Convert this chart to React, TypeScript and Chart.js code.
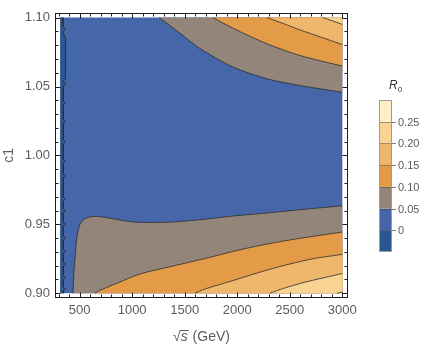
import React, { useEffect, useRef } from 'react';
import { Chart, registerables } from 'chart.js';

Chart.register(...registerables);

// ---- axis ranges ----
const X_AXIS_MIN = 266;
const X_AXIS_MAX = 3054;
const Y_AXIS_MIN = 0.8965;
const Y_AXIS_MAX = 1.1035;
const X_DATA_MIN = 316;
const X_DATA_MAX = 3000;
const Y_DATA_MIN = 0.9;
const Y_DATA_MAX = 1.1;

// ---- tick labels ----
const xTickValues = [500, 1000, 1500, 2000, 2500, 3000];
const yTickValues = [0.9, 0.95, 1.0, 1.05, 1.1];
const legendLabels = ['0', '0.05', '0.10', '0.15', '0.20', '0.25'];

// ---- band colours (below 0, 0-0.05, ..., above 0.25) ----
const C_DARK = '#2b5790';
const C_BLUE = '#4566a8';
const C_GRAY = '#93857a';
const C_ORANGE = '#e39b48';
const C_LIGHT = '#efb76b';
const C_PALE = '#f9d391';
const C_PALEST = '#fef0c6';
const bandColors = [C_DARK, C_BLUE, C_GRAY, C_ORANGE, C_LIGHT, C_PALE, C_PALEST];

// ---- contour lines (R0 levels) ----
// upper-right family
const upper05X = [1258, 1455, 1646, 1960, 2283, 2597, 3000];
const upper05Y = [1.1, 1.0887, 1.0775, 1.0641, 1.0556, 1.0507, 1.0458];
const upper10X = [1769, 1960, 2283, 2597, 3000];
const upper10Y = [1.1, 1.0923, 1.081, 1.0725, 1.0648];
const upper15X = [2283, 2435, 2597, 3000];
const upper15Y = [1.1, 1.0958, 1.0911, 1.0805];
const upper20X = [2816, 3000];
const upper20Y = [1.1, 1.0951];

// lower family
const lower05X = [437, 447, 456, 475, 504, 551, 618, 694, 1008, 1332, 1646, 1960, 2283, 2597, 3000];
const lower05Y = [0.9, 0.9162, 0.9246, 0.9408, 0.95, 0.9542, 0.9556, 0.9556, 0.9517, 0.9515, 0.9533, 0.956, 0.9582, 0.9606, 0.9634];
const lower10X = [647, 694, 761, 1075, 1389, 1712, 2026, 2312, 2597, 3000];
const lower10Y = [0.9, 0.9021, 0.9042, 0.9139, 0.9197, 0.9255, 0.9315, 0.9361, 0.9398, 0.9444];
const lower15X = [1598, 1680, 1960, 2312, 2692, 3000];
const lower15Y = [0.9, 0.9027, 0.9092, 0.9174, 0.9246, 0.9282];
const lower20X = [2312, 2450, 2645, 3000];
const lower20Y = [0.9, 0.9037, 0.908, 0.9143];
const lower25X = [2950, 3000];
const lower25Y = [0.9, 0.9008];

// zero contour near threshold (right edge of the dark strip), top to bottom
const stripX = [342, 342, 366, 345, 366, 366, 345, 366, 345, 345, 366, 345, 345, 366, 345, 345, 366, 345, 345, 366, 345, 345, 366, 345, 345, 366, 345, 345, 366, 345, 345, 366, 345, 345, 366, 345, 345, 366, 345, 345, 366, 345, 345, 366, 345, 345, 366, 345, 345];
const stripY = [1.1, 1.0937, 1.0915, 1.0894, 1.0852, 1.0556, 1.0542, 1.0521, 1.05, 1.0394, 1.038, 1.0366, 1.0261, 1.0246, 1.0232, 1.0113, 1.0099, 1.0085, 0.9972, 0.9958, 0.9944, 0.9866, 0.9852, 0.9838, 0.9697, 0.9683, 0.9669, 0.9613, 0.9599, 0.9585, 0.9514, 0.95, 0.9486, 0.9415, 0.9401, 0.9387, 0.9317, 0.9303, 0.9289, 0.9225, 0.9211, 0.9197, 0.9127, 0.9113, 0.9099, 0.9045, 0.9031, 0.9017, 0.9];

const FONT = '"Liberation Sans", Arial, Helvetica, sans-serif';
const TEXT = '#5c5c5c';
const LINE = 'rgba(45,45,45,0.8)';
const TENSION = 0.25;

const pts = (xs: number[], ys: number[]) => xs.map((x, i) => ({ x, y: ys[i] }));

function region(xs: number[], ys: number[], cx: number, cy: number, color: string, order: number, tension = TENSION) {
  const p = pts(xs, ys);
  return {
    data: [...p, p[p.length - 1], { x: cx, y: cy }],
    showLine: true,
    fill: 'shape',
    backgroundColor: color,
    borderColor: 'transparent',
    borderWidth: 0,
    pointRadius: 0,
    tension,
    order,
  };
}

function contour(xs: number[], ys: number[], tension = TENSION) {
  return {
    data: pts(xs, ys),
    showLine: true,
    fill: false,
    borderColor: LINE,
    borderWidth: 1,
    pointRadius: 0,
    tension,
    order: 0,
  };
}

const overlayPlugin = {
  id: 'overlay',
  afterDatasetsDraw(chart: any) {
    const { ctx, chartArea: a, scales } = chart;
    const xs = scales.x;
    const ys = scales.y;
    const L = Math.round(a.left) + 0.5;
    const R = Math.round(a.right) - 0.5;
    const T = Math.round(a.top) + 0.5;
    const B = Math.round(a.bottom) - 0.5;
    ctx.save();
    ctx.strokeStyle = '#1e1e1e';
    ctx.lineWidth = 1;
    ctx.strokeRect(L, T, R - L, B - T);
    ctx.beginPath();
    for (let v = 300; v <= 3000; v += 100) {
      const len = v % 500 === 0 ? 5 : 3;
      const px = Math.round(xs.getPixelForValue(v)) + 0.5;
      ctx.moveTo(px, B); ctx.lineTo(px, B - len);
      ctx.moveTo(px, T); ctx.lineTo(px, T + len);
    }
    for (let i = 0; i <= 20; i++) {
      const v = 0.9 + i * 0.01;
      const len = i % 5 === 0 ? 5 : 3;
      const py = Math.round(ys.getPixelForValue(v)) + 0.5;
      ctx.moveTo(L, py); ctx.lineTo(L + len, py);
      ctx.moveTo(R, py); ctx.lineTo(R - len, py);
    }
    ctx.stroke();
    ctx.restore();
  },
  afterDraw(chart: any) {
    const { ctx, chartArea: a } = chart;
    ctx.save();
    ctx.fillStyle = TEXT;
    // x title: sqrt(s) (GeV)
    const normal = `14px ${FONT}`;
    const italic = `italic 14px ${FONT}`;
    ctx.font = normal;
    const wSq = ctx.measureText('√').width;
    const ascSq = ctx.measureText('√').actualBoundingBoxAscent;
    const wRest = ctx.measureText(' (GeV)').width;
    ctx.font = italic;
    const wS = ctx.measureText('s').width;
    const total = wSq + wS + wRest + 1;
    const x0 = (a.left + a.right) / 2 - total / 2;
    const base = 341;
    ctx.textBaseline = 'alphabetic';
    ctx.textAlign = 'left';
    ctx.font = normal;
    ctx.fillText('√', x0, base);
    ctx.font = italic;
    ctx.fillText('s', x0 + wSq, base);
    ctx.font = normal;
    ctx.fillText(' (GeV)', x0 + wSq + wS + 1, base);
    ctx.strokeStyle = TEXT;
    ctx.lineWidth = 1;
    ctx.beginPath();
    const vy = Math.round(base - ascSq) + 0.5;
    ctx.moveTo(x0 + wSq - 1, vy);
    ctx.lineTo(x0 + wSq + wS + 1, vy);
    ctx.stroke();

    // y title
    ctx.save();
    ctx.translate(9, (a.top + a.bottom) / 2);
    ctx.rotate(-Math.PI / 2);
    ctx.textAlign = 'center';
    ctx.textBaseline = 'middle';
    ctx.font = normal;
    ctx.fillText('c1', 0, 0);
    ctx.restore();

    // colour bar legend
    const bx = 379, bw = 13, btop = 100, bbot = 252;
    const n = bandColors.length;
    const bh = (bbot - btop) / n;
    for (let i = 0; i < n; i++) {
      ctx.fillStyle = bandColors[i];
      const y1 = bbot - (i + 1) * bh;
      ctx.fillRect(bx, y1, bw, bh);
    }
    ctx.strokeStyle = 'rgba(60,60,60,0.45)';
    ctx.beginPath();
    for (let i = 1; i < n; i++) {
      const y = Math.round(bbot - i * bh) + 0.5;
      ctx.moveTo(bx, y); ctx.lineTo(bx + bw, y);
    }
    ctx.stroke();
    ctx.strokeStyle = '#9a9a9a';
    ctx.strokeRect(bx + 0.5, btop + 0.5, bw - 1, bbot - btop - 1);
    ctx.strokeStyle = '#808080';
    ctx.fillStyle = TEXT;
    ctx.font = `11px ${FONT}`;
    ctx.textAlign = 'left';
    ctx.textBaseline = 'middle';
    ctx.beginPath();
    for (let i = 0; i < legendLabels.length; i++) {
      const y = Math.round(bbot - (i + 1) * bh) + 0.5;
      ctx.moveTo(bx + bw, y); ctx.lineTo(bx + bw + 4, y);
      ctx.fillText(legendLabels[i], bx + bw + 6, y);
    }
    ctx.stroke();
    // legend title R0
    ctx.fillStyle = '#333';
    ctx.font = `italic 12px ${FONT}`;
    ctx.textBaseline = 'alphabetic';
    ctx.fillText('R', 389, 89);
    const wR = ctx.measureText('R').width;
    ctx.font = `8px ${FONT}`;
    ctx.fillText('0', 389 + wR, 92);
    ctx.restore();
  },
};

export default function App() {
  const ref = useRef<HTMLCanvasElement | null>(null);
  useEffect(() => {
    if (!ref.current) return;
    const datasets: any[] = [
      region([X_DATA_MIN, X_DATA_MAX, X_DATA_MAX], [Y_DATA_MIN, Y_DATA_MIN, Y_DATA_MAX], X_DATA_MIN, Y_DATA_MAX, C_BLUE, 20, 0),
      region([X_DATA_MIN, ...stripX], [Y_DATA_MAX, ...stripY], X_DATA_MIN, Y_DATA_MIN, C_DARK, 19, 0),
      region(upper05X, upper05Y, X_DATA_MAX, Y_DATA_MAX, C_GRAY, 18),
      region(upper10X, upper10Y, X_DATA_MAX, Y_DATA_MAX, C_ORANGE, 17),
      region(upper15X, upper15Y, X_DATA_MAX, Y_DATA_MAX, C_LIGHT, 16),
      region(upper20X, upper20Y, X_DATA_MAX, Y_DATA_MAX, C_PALE, 15),
      region(lower05X, lower05Y, X_DATA_MAX, Y_DATA_MIN, C_GRAY, 18),
      region(lower10X, lower10Y, X_DATA_MAX, Y_DATA_MIN, C_ORANGE, 17),
      region(lower15X, lower15Y, X_DATA_MAX, Y_DATA_MIN, C_LIGHT, 16),
      region(lower20X, lower20Y, X_DATA_MAX, Y_DATA_MIN, C_PALE, 15),
      region(lower25X, lower25Y, X_DATA_MAX, Y_DATA_MIN, C_PALEST, 14),
      contour(stripX, stripY, 0),
      contour(upper05X, upper05Y),
      contour(upper10X, upper10Y),
      contour(upper15X, upper15Y),
      contour(upper20X, upper20Y),
      contour(lower05X, lower05Y),
      contour(lower10X, lower10Y),
      contour(lower15X, lower15Y),
      contour(lower20X, lower20Y),
      contour(lower25X, lower25Y),
    ];
    const chart = new Chart(ref.current, {
      type: 'scatter',
      data: { datasets },
      options: {
        responsive: false,
        animation: false,
        devicePixelRatio: 1,
        layout: { padding: { top: 4, right: 78, bottom: 0, left: 0 } },
        plugins: { legend: { display: false }, tooltip: { enabled: false } },
        scales: {
          x: {
            type: 'linear',
            min: X_AXIS_MIN,
            max: X_AXIS_MAX,
            grid: { display: false, drawTicks: false },
            border: { display: false },
            afterBuildTicks: (s: any) => { s.ticks = xTickValues.map((v) => ({ value: v })); },
            afterFit: (s: any) => { s.height = 52; },
            ticks: {
              color: TEXT,
              font: { family: FONT, size: 13 },
              padding: 5,
              maxRotation: 0,
              autoSkip: false,
              callback: (v: any) => String(v),
            },
          },
          y: {
            type: 'linear',
            min: Y_AXIS_MIN,
            max: Y_AXIS_MAX,
            grid: { display: false, drawTicks: false },
            border: { display: false },
            afterBuildTicks: (s: any) => { s.ticks = yTickValues.map((v) => ({ value: v })); },
            afterFit: (s: any) => { s.width = 55; },
            ticks: {
              color: TEXT,
              font: { family: FONT, size: 13 },
              padding: 5,
              autoSkip: false,
              callback: (v: any) => Number(v).toFixed(2),
            },
          },
        },
      },
      plugins: [overlayPlugin],
    });
    return () => chart.destroy();
  }, []);
  return (
    <div style={{ position: 'absolute', left: 0, top: 0, width: 426, height: 350, background: '#fff' }}>
      <canvas ref={ref} width={426} height={350} style={{ display: 'block', width: 426, height: 350 }} />
    </div>
  );
}
